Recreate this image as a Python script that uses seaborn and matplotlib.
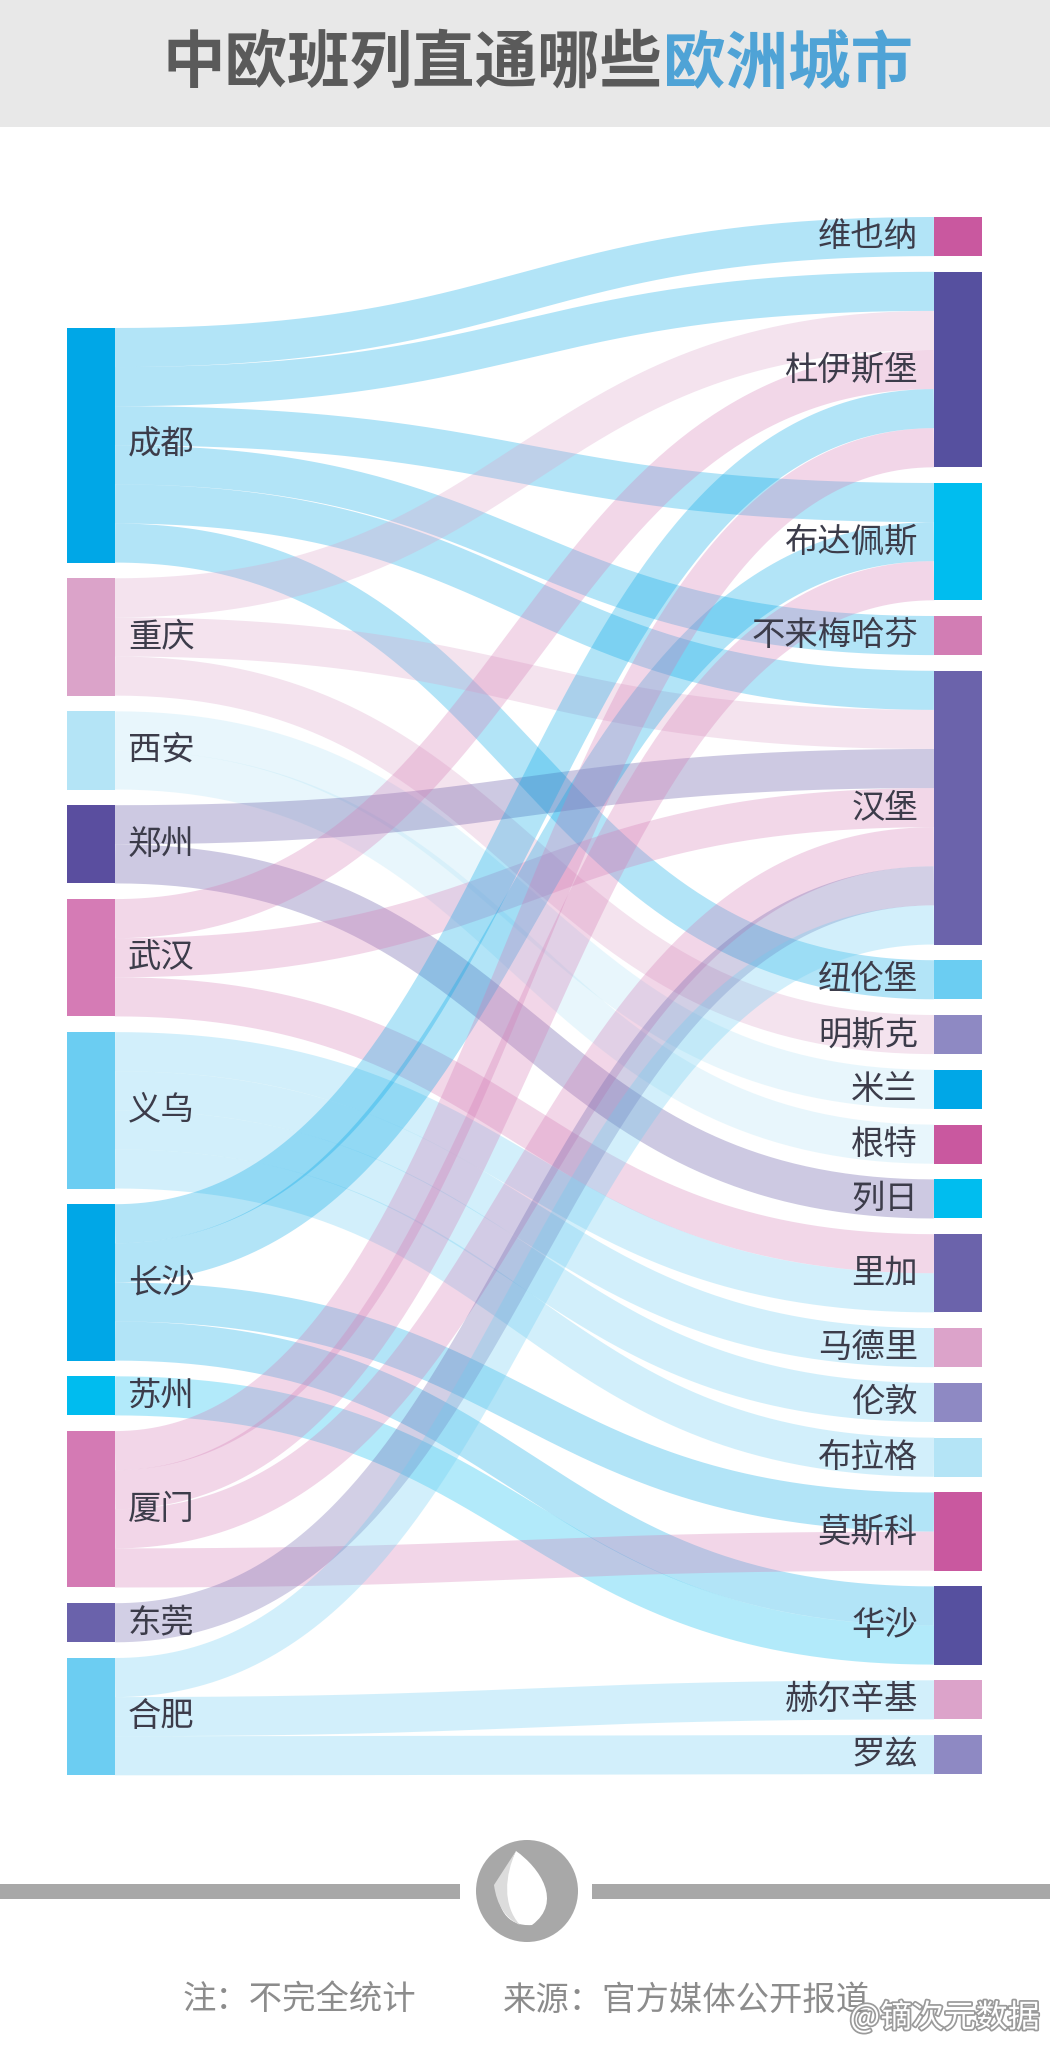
import numpy as np
import matplotlib
matplotlib.use("Agg")
import matplotlib.pyplot as plt
import matplotlib.patheffects as pe
from matplotlib.path import Path
from matplotlib.patches import PathPatch, Circle, Rectangle
import seaborn as sns

sns.set_theme(style="white")
plt.rcParams['font.family'] = ['Noto Sans CJK SC', 'DejaVu Sans']

# nodes (Chinese cities on the left, European cities on the right)
left_nodes = ["成都", "重庆", "西安", "郑州", "武汉", "义乌", "长沙", "苏州", "厦门", "东莞", "合肥"]
left_colors = ["#00a7e7", "#dba3c9", "#b4e4f6", "#5a4e9f", "#d57bb5", "#6bcdf2",
               "#00a7e7", "#00bcef", "#d47ab4", "#6a62ab", "#6ccdf2"]
right_nodes = ["维也纳", "杜伊斯堡", "布达佩斯", "不来梅哈芬", "汉堡", "纽伦堡", "明斯克", "米兰", "根特",
               "列日", "里加", "马德里", "伦敦", "布拉格", "莫斯科", "华沙", "赫尔辛基", "罗兹"]
right_colors = ["#c9589f", "#56509f", "#00bdef", "#d27db4", "#6b63ab", "#6bcdf2", "#8e89c3", "#00a7e7",
                "#c9589f", "#00bdef", "#6b63ab", "#dca3ca", "#8e89c3", "#b4e4f6", "#c9589f", "#56509f",
                "#dca3ca", "#8e89c3"]

# links: one train route each
link_source = ["成都", "成都", "成都", "成都", "成都", "成都",
               "重庆", "重庆", "重庆",
               "西安", "西安",
               "郑州", "郑州",
               "武汉", "武汉", "武汉",
               "义乌", "义乌", "义乌", "义乌",
               "长沙", "长沙", "长沙", "长沙",
               "苏州",
               "厦门", "厦门", "厦门", "厦门",
               "东莞",
               "合肥", "合肥", "合肥"]
link_target = ["维也纳", "杜伊斯堡", "布达佩斯", "不来梅哈芬", "汉堡", "纽伦堡",
               "杜伊斯堡", "汉堡", "明斯克",
               "米兰", "根特",
               "汉堡", "列日",
               "杜伊斯堡", "汉堡", "里加",
               "里加", "马德里", "伦敦", "布拉格",
               "杜伊斯堡", "布达佩斯", "莫斯科", "华沙",
               "华沙",
               "杜伊斯堡", "布达佩斯", "汉堡", "莫斯科",
               "汉堡",
               "汉堡", "赫尔辛基", "罗兹"]
link_value = [1, 1, 1, 1, 1, 1,
              1, 1, 1,
              1, 1,
              1, 1,
              1, 1, 1,
              1, 1, 1, 1,
              1, 1, 1, 1,
              1,
              1, 1, 1, 1,
              1,
              1, 1, 1]

W, H = 1050, 2047
unit = 39.1          # pixels per route
gap = 15.7           # gap between nodes
left_x, right_x, node_w = 67, 934, 48
left_top, right_top = 328, 217

fig = plt.figure(figsize=(W / 100, H / 100), dpi=100)
ax = fig.add_axes([0, 0, 1, 1])
ax.set_xlim(0, W)
ax.set_ylim(H, 0)
ax.axis('off')


def layout(nodes, side, top):
    pos = {}
    y = top
    for n in nodes:
        if side == 'src':
            total = sum(v for s, v in zip(link_source, link_value) if s == n)
        else:
            total = sum(v for t, v in zip(link_target, link_value) if t == n)
        pos[n] = (y, total * unit)
        y += total * unit + gap
    return pos


lpos = layout(left_nodes, 'src', left_top)
rpos = layout(right_nodes, 'tgt', right_top)

# link offsets within each node
idx = list(range(len(link_source)))
src_off, tgt_off = {}, {}
for n in left_nodes:
    y = lpos[n][0]
    for i in sorted([i for i in idx if link_source[i] == n], key=lambda i: right_nodes.index(link_target[i])):
        src_off[i] = y
        y += link_value[i] * unit
for n in right_nodes:
    y = rpos[n][0]
    for i in sorted([i for i in idx if link_target[i] == n], key=lambda i: left_nodes.index(link_source[i])):
        tgt_off[i] = y
        y += link_value[i] * unit

x0, x1 = left_x + node_w, right_x
xm = (x0 + x1) / 2
t = np.linspace(0, 1, 150)
for i in idx:
    th = link_value[i] * unit
    y0 = src_off[i] + th / 2
    y1 = tgt_off[i] + th / 2
    bx = (1 - t) ** 3 * x0 + 3 * (1 - t) ** 2 * t * xm + 3 * (1 - t) * t ** 2 * xm + t ** 3 * x1
    by = (1 - t) ** 3 * y0 + 3 * (1 - t) ** 2 * t * y0 + 3 * (1 - t) * t ** 2 * y1 + t ** 3 * y1
    c = left_colors[left_nodes.index(link_source[i])]
    ax.plot(bx, by, color=c, alpha=0.3, lw=th * 0.72, solid_capstyle='butt', zorder=1)

label_color = "#3c3c4a"
for n, c in zip(left_nodes, left_colors):
    y, h = lpos[n]
    ax.add_patch(Rectangle((left_x, y), node_w, h, color=c, lw=0, zorder=3))
    ax.text(left_x + node_w + 13, y + h / 2, n, fontsize=24, color=label_color,
            fontweight='light', ha='left', va='center', zorder=4)
for n, c in zip(right_nodes, right_colors):
    y, h = rpos[n]
    ax.add_patch(Rectangle((right_x, y), node_w, h, color=c, lw=0, zorder=3))
    ax.text(right_x - 16, y + h / 2, n, fontsize=24, color=label_color,
            fontweight='light', ha='right', va='center', zorder=4)

# title band
ax.add_patch(Rectangle((0, 0), W, 127, color="#e8e8e8", lw=0, zorder=0))
ax.text(663, 64, "中欧班列直通哪些", fontsize=45, fontweight='bold', color="#5a5a5a",
        ha='right', va='center')
ax.text(663, 64, "欧洲城市", fontsize=45, fontweight='bold', color="#4fa3d6",
        ha='left', va='center')

# footer divider with icon
ax.add_patch(Rectangle((0, 1884), 460, 15, color="#a8a8a8", lw=0))
ax.add_patch(Rectangle((592, 1884), 458, 15, color="#a8a8a8", lw=0))
ax.add_patch(Circle((527, 1891), 51, color="#a8a8a8", lw=0))
flame = Path([(516, 1851), (540, 1868), (563, 1902), (532, 1925),
              (506, 1927), (496, 1906), (499, 1886), (516, 1851)],
             [Path.MOVETO, Path.CURVE4, Path.CURVE4, Path.CURVE4,
              Path.CURVE4, Path.CURVE4, Path.CURVE4, Path.CLOSEPOLY])
ax.add_patch(PathPatch(flame, facecolor="white", edgecolor="none", zorder=5))
shade = Path([(516, 1851), (505, 1875), (502, 1905), (520, 1925),
              (498, 1915), (494, 1885), (516, 1851)],
             [Path.MOVETO, Path.CURVE4, Path.CURVE4, Path.CURVE4,
              Path.CURVE3, Path.CURVE3, Path.CLOSEPOLY])
ax.add_patch(PathPatch(shade, facecolor="#dcdcdc", edgecolor="none", zorder=6))

ax.text(183, 2000, "注：不完全统计", fontsize=24, color="#8c8c8c", fontweight='light',
        ha='left', va='center')
ax.text(503, 2000, "来源：官方媒体公开报道", fontsize=24, color="#8c8c8c", fontweight='light',
        ha='left', va='center')
ax.text(1040, 2018, "@镝次元数据", fontsize=23, color="white", ha='right', va='center',
        path_effects=[pe.withStroke(linewidth=2.5, foreground="#9a9a9a")])

fig.savefig("out.png", dpi=100)
